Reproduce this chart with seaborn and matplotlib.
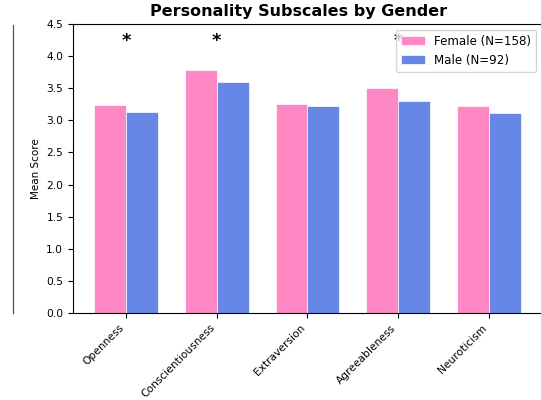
import matplotlib
matplotlib.use("Agg")
import matplotlib.pyplot as plt
import seaborn as sns
import pandas as pd
from matplotlib.lines import Line2D

# Data
subscales = ["Openness", "Conscientiousness", "Extraversion", "Agreeableness", "Neuroticism"]
female_means = [3.24, 3.785, 3.25, 3.51, 3.23]
male_means = [3.125, 3.59, 3.22, 3.30, 3.12]
significant = ["Openness", "Conscientiousness", "Agreeableness"]
female_label = "Female (N=158)"
male_label = "Male (N=92)"

df = pd.DataFrame({
    "Subscale": subscales * 2,
    "Mean": female_means + male_means,
    "Gender": [female_label] * len(subscales) + [male_label] * len(subscales),
})

fig = plt.figure(figsize=(5.41, 4.0), dpi=100)
ax = fig.add_axes([0.1349, 0.2175, 0.8669, 0.7225])

sns.barplot(
    data=df, x="Subscale", y="Mean", hue="Gender",
    palette={female_label: "hotpink", male_label: "royalblue"},
    saturation=1, width=0.7, gap=0, alpha=0.8,
    edgecolor="white", linewidth=0.6,
    errorbar=None, ax=ax,
)

# significance markers
for i, name in enumerate(subscales):
    if name in significant:
        ax.text(i, 4.1, "*", ha="center", va="bottom", fontsize=13, fontweight="bold")

ax.set_xlim(-0.585, 4.585)
ax.set_ylim(0, 4.5)
ax.set_xlabel("")
ax.set_ylabel("Mean Score", fontsize=7.5)
ax.set_title("Personality Subscales by Gender", fontsize=11.5, fontweight="bold", x=0.48)
ax.tick_params(labelsize=7.7)
plt.setp(ax.get_xticklabels(), rotation=45, ha="right")
leg = ax.legend(loc="upper right", fontsize=8.6)
leg.set_zorder(5)

# stray vertical line on the left edge of the reference
fig.add_artist(Line2D([13 / 541, 13 / 541], [1 - 25 / 400, 1 - 313 / 400], color="#555555", linewidth=0.9))

fig.savefig("out.png", dpi=100)
